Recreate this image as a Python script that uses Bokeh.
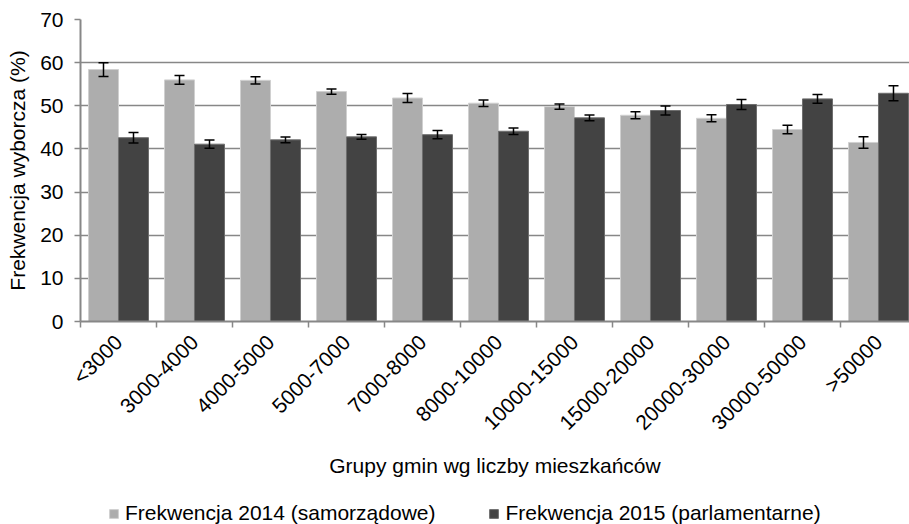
import math
import numpy as np
from bokeh.plotting import figure
from bokeh.layouts import column
from bokeh.models import (ColumnDataSource, Range1d, FixedTicker, Whisker, TeeHead,
                          Legend, LegendItem)
from bokeh.embed import file_html
from bokeh.resources import INLINE

categories = ["<3000", "3000-4000", "4000-5000", "5000-7000", "7000-8000", "8000-10000",
              "10000-15000", "15000-20000", "20000-30000", "30000-50000", ">50000"]
turnout_2014 = [58.4, 56.0, 55.9, 53.3, 51.8, 50.6, 49.8, 47.8, 47.1, 44.5, 41.5]
err_2014 = [1.6, 1.0, 0.85, 0.6, 1.05, 0.75, 0.6, 0.8, 0.8, 1.0, 1.35]
turnout_2015 = [42.6, 41.1, 42.1, 42.8, 43.3, 44.1, 47.2, 48.9, 50.3, 51.6, 52.9]
err_2015 = [1.2, 0.95, 0.65, 0.55, 0.95, 0.75, 0.65, 1.05, 1.15, 1.0, 1.75]
y_ticks = [0, 10, 20, 30, 40, 50, 60, 70]

label_2014 = "Frekwencja 2014 (samorządowe)"
label_2015 = "Frekwencja 2015 (parlamentarne)"

FONT = "Liberation Sans"
GRID = "#878787"
C14, C14_LINE = "#adadad", "#d0d0d0"
C15, C15_LINE = "#434343", "#6e6e6e"

idx = np.arange(len(categories))
bar_w = 30 / 76

src14 = ColumnDataSource(dict(
    x=idx - bar_w / 2, top=turnout_2014,
    upper=np.array(turnout_2014) + np.array(err_2014),
    lower=np.array(turnout_2014) - np.array(err_2014)))
src15 = ColumnDataSource(dict(
    x=idx + bar_w / 2, top=turnout_2015,
    upper=np.array(turnout_2015) + np.array(err_2015),
    lower=np.array(turnout_2015) - np.array(err_2015)))

p = figure(width=909, height=488, output_backend="svg", toolbar_location=None,
           x_range=Range1d(-0.5, 10.408), y_range=Range1d(0, 70),
           min_border_left=80, min_border_right=0, min_border_top=19, min_border_bottom=167)
p.outline_line_color = None
p.background_fill_color = "white"

p.vbar(x="x", top="top", width=bar_w, bottom=0, source=src14,
       fill_color=C14, line_color=C14_LINE, line_width=1)
p.vbar(x="x", top="top", width=bar_w, bottom=0, source=src15,
       fill_color=C15, line_color=C15_LINE, line_width=1)

for s in (src14, src15):
    w = Whisker(source=s, base="x", upper="upper", lower="lower", dimension="height",
                line_color="black", line_width=1.5, level="annotation",
                upper_head=TeeHead(size=10, line_color="black", line_width=1.5),
                lower_head=TeeHead(size=10, line_color="black", line_width=1.5))
    p.add_layout(w)

# x axis
xa = p.xaxis[0]
xa.ticker = FixedTicker(ticks=list(idx), minor_ticks=[i - 0.5 for i in range(len(categories) + 1)])
xa.major_label_overrides = {int(i): c for i, c in zip(idx, categories)}
xa.major_label_orientation = math.pi / 4
xa.major_tick_out = 0
xa.major_tick_in = 0
xa.minor_tick_out = 6
xa.minor_tick_in = 0
xa.minor_tick_line_color = GRID
xa.minor_tick_line_width = 1.5
xa.axis_line_color = GRID
xa.axis_line_width = 2
xa.major_label_text_font = FONT
xa.major_label_text_font_size = "21px"
xa.major_label_text_color = "black"
xa.major_label_standoff = 11
xa.axis_label = "Grupy gmin wg liczby mieszkańców"
xa.axis_label_text_font = FONT
xa.axis_label_text_font_size = "21px"
xa.axis_label_text_font_style = "normal"
xa.axis_label_text_color = "black"
xa.axis_label_standoff = 9

# y axis
ya = p.yaxis[0]
ya.ticker = FixedTicker(ticks=y_ticks)
ya.major_tick_out = 6
ya.major_tick_in = 0
ya.major_tick_line_color = GRID
ya.major_tick_line_width = 1.5
ya.minor_tick_line_color = None
ya.axis_line_color = GRID
ya.axis_line_width = 2
ya.major_label_text_font = FONT
ya.major_label_text_font_size = "21px"
ya.major_label_text_color = "black"
ya.major_label_standoff = 11
ya.axis_label = "Frekwencja wyborcza (%)"
ya.axis_label_text_font = FONT
ya.axis_label_text_font_size = "21px"
ya.axis_label_text_font_style = "normal"
ya.axis_label_text_color = "black"
ya.axis_label_standoff = 8

p.xgrid.grid_line_color = None
p.ygrid.ticker = FixedTicker(ticks=y_ticks)
p.ygrid.grid_line_color = GRID
p.ygrid.grid_line_width = 1.3

# legend strip below the chart (its view range holds none of the bars,
# so only the legend swatches are visible)
lf = figure(width=909, height=36, output_backend="svg", toolbar_location=None,
            x_range=Range1d(100, 101), y_range=Range1d(100, 101),
            x_axis_location=None, y_axis_location=None, min_border=0)
lf.outline_line_color = None
lf.grid.grid_line_color = None
lr14 = lf.vbar(x="x", top="top", width=bar_w, bottom=0, source=src14,
               fill_color=C14, line_color=C14_LINE)
lr15 = lf.vbar(x="x", top="top", width=bar_w, bottom=0, source=src15,
               fill_color=C15, line_color=C15_LINE)

legend = Legend(items=[LegendItem(label=label_2014, renderers=[lr14]),
                       LegendItem(label=label_2015, renderers=[lr15])],
                orientation="horizontal", location=(28, -1))
legend.padding = 0
legend.margin = 0
legend.spacing = 53
legend.border_line_color = None
legend.background_fill_alpha = 0
legend.glyph_width = 11
legend.glyph_height = 11
legend.label_standoff = 6
legend.label_text_font = FONT
legend.label_text_font_size = "21px"
legend.label_text_color = "black"
lf.add_layout(legend)

layout = column(p, lf, spacing=0)
open("out.html", "w").write(file_html(layout, INLINE))
